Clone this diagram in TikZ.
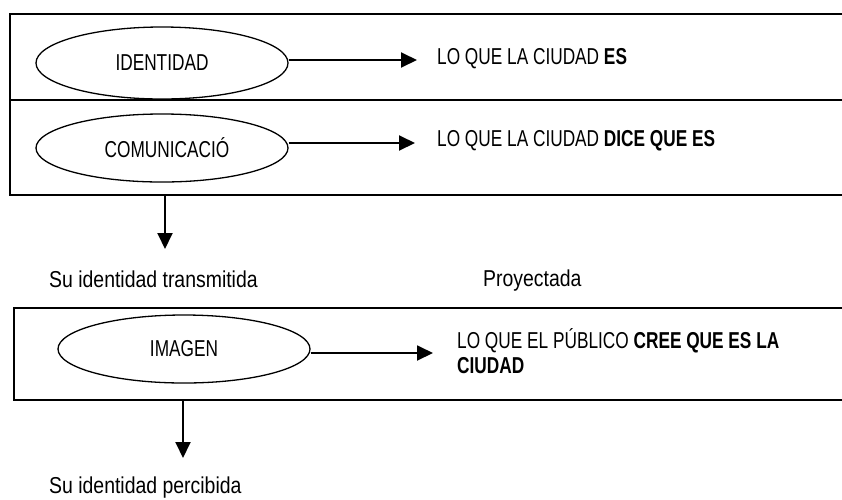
\documentclass[tikz,border=0pt]{standalone}
\usepackage{fontspec}
\setmainfont{Liberation Sans}
\newfontfamily\capsfont{Liberation Sans}[FakeStretch=0.75]
\newfontfamily\lowfont{Liberation Sans}[FakeStretch=0.845]
\usetikzlibrary{arrows.meta,shapes.geometric}
\begin{document}
\begin{tikzpicture}[x=1pt,y=-1pt,
  boxframe/.style={draw, line width=1.9pt, inner sep=0pt, anchor=north west},
  oval/.style={draw, ellipse, line width=1.3pt, inner sep=0pt, minimum width=252pt,
    font=\capsfont\fontsize{23}{25}\selectfont},
  capslbl/.style={inner sep=0pt, anchor=base west, align=left,
    font=\capsfont\fontsize{23}{25}\selectfont},
  lowlbl/.style={inner sep=0pt, anchor=base west, font=\lowfont\fontsize{23}{25}\selectfont},
  arr/.style={line width=1.9pt, -{Triangle[length=16pt,width=15pt]}}]
\useasboundingbox (0,0) rectangle (842,499);
\clip (0,0) rectangle (842,499);
% frames
\node[boxframe, minimum width=860pt, minimum height=181pt] (box1) at (9,13) {};
\coordinate (divL) at (9,100);
\coordinate (divR) at (870,100);
\draw[line width=1.9pt] (divL) -- (divR);
\node[boxframe, minimum width=860pt, minimum height=92pt] (box2) at (13,307) {};
% ovals
\node[oval, minimum height=72pt] (e1) at (162,63) {IDENTIDAD};
\node[oval, minimum height=68pt] (e2) at (162,148) {\hspace*{10pt}COMUNICACIÓ};
\node[oval, minimum height=68pt] (e3) at (184,349) {IMAGEN};
% texts
\node[capslbl] (t1) at (437,64) {LO QUE LA CIUDAD \textbf{ES}};
\node[capslbl] (t2) at (437,146) {LO QUE LA CIUDAD \textbf{DICE QUE ES}};
\node[capslbl] (t3) at (457,373) {LO QUE EL PÚBLICO \textbf{CREE QUE ES LA}\\\textbf{CIUDAD}};
\node[lowlbl] (s1) at (49,287) {Su identidad transmitida};
\node[lowlbl] (p1) at (483,286) {Proyectada};
\node[lowlbl] (s2) at (49,493) {Su identidad percibida};
% arrows
\draw[arr, shorten >=20pt] ([yshift=3pt]e1.east) -- ([yshift=3pt]e1.east -| t1.west);
\draw[arr, shorten >=22pt] ([yshift=5pt]e2.east) -- ([yshift=5pt]e2.east -| t2.west);
\draw[arr, shorten >=24pt] ([yshift=-4pt]e3.east) -- ([yshift=-4pt]e3.east -| t3.west);
\coordinate (d1) at (165,249);
\coordinate (d2) at (183,458);
\draw[arr] (box1.south -| d1) -- (d1);
\draw[arr] (box2.south -| d2) -- (d2);
\end{tikzpicture}
\end{document}
